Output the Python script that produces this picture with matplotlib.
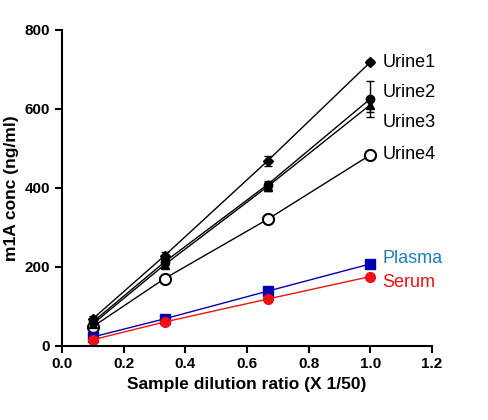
import matplotlib
matplotlib.use("Agg")
import matplotlib.pyplot as plt

x = [0.1, 0.333, 0.667, 1.0]
urine1 = [68, 228, 468, 718]
urine2 = [60, 212, 408, 625]
urine3 = [55, 205, 403, 610]
urine4 = [48, 170, 320, 483]
plasma = [22, 68, 138, 207]
serum = [15, 60, 118, 175]
urine1_err = [8, 8, 12, 5]
urine2_err = [5, 8, 10, 45]
urine3_err = [5, 8, 10, 18]

plt.rcParams['font.family'] = ['Liberation Sans', 'DejaVu Sans']
fig = plt.figure(figsize=(4.88, 4.20), dpi=100)
ax = fig.add_axes([0.127, 0.177, 0.758, 0.752])

ax.errorbar(x, urine1, yerr=urine1_err, color='black', marker='D', ms=5, lw=1, capsize=3)
ax.errorbar(x, urine2, yerr=urine2_err, color='black', marker='o', ms=6, lw=1, capsize=3)
ax.errorbar(x, urine3, yerr=urine3_err, color='black', marker='^', ms=6, lw=1, capsize=3)
ax.plot(x, urine4, color='black', marker='o', ms=8, mfc='white', mew=1.5, lw=1)
ax.plot(x, plasma, color='#0000b0', marker='s', ms=7, lw=1)
ax.plot(x, serum, color='#ee1111', marker='o', ms=7, lw=1)

labels = [("Urine1", 718, 'black'), ("Urine2", 640, 'black'), ("Urine3", 565, 'black'),
          ("Urine4", 483, 'black'), ("Plasma", 220, '#1a7fc0'), ("Serum", 160, '#ee1111')]
for t, yv, c in labels:
    ax.text(1.04, yv, t, color=c, fontsize=13, va='center', ha='left')

ax.set_xlim(0, 1.2)
ax.set_ylim(0, 800)
ax.set_xticks([0.0, 0.2, 0.4, 0.6, 0.8, 1.0, 1.2])
ax.set_xticklabels(["0.0", "0.2", "0.4", "0.6", "0.8", "1.0", "1.2"])
ax.set_yticks([0, 200, 400, 600, 800])
for s in ['top', 'right']:
    ax.spines[s].set_visible(False)
for s in ['left', 'bottom']:
    ax.spines[s].set_linewidth(1.5)
ax.tick_params(width=1.5, length=5, labelsize=11)
for lab in ax.get_xticklabels() + ax.get_yticklabels():
    lab.set_fontweight('bold')
ax.set_xlabel("Sample dilution ratio (X 1/50)", fontsize=12.5, fontweight='bold')
ax.set_ylabel("m1A conc (ng/ml)", fontsize=12.5, fontweight='bold')
fig.savefig("out.png", dpi=100)
